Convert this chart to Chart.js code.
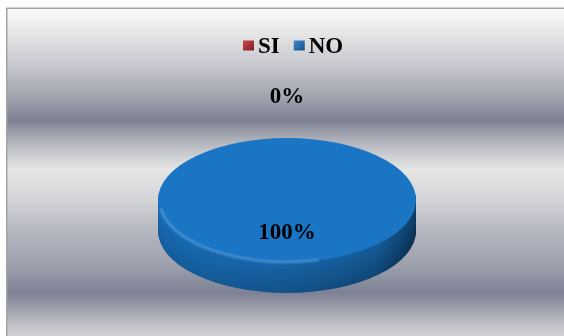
<!DOCTYPE html>
<html>
<head>
<meta charset="utf-8">
<script src="https://cdn.jsdelivr.net/npm/chart.js@4.4.0/dist/chart.umd.min.js"></script>
<style>
  html, body { margin: 0; padding: 0; background: #fff; }
  canvas { display: block; }
</style>
</head>
<body>
<canvas id="myChart" width="564" height="336"></canvas>
<script>
// chart data
var labels = ['SI', 'NO'];
var values = [0, 100];
var colors = ['#c0262c', '#1a75c4'];

// 3d pie look
var pie = { x: 287, y: 200, rx: 129, ry: 62, depth: 31 };
var labelFont = 'bold 23px "Liberation Serif", "Times New Roman", serif';

// metallic band background (y, colour)
var bands = [[8, '#fbfbfb'], [33, '#e6e6e7'], [67, '#c5c6cd'], [97, '#a1a4af'], [120, '#7c8093'],
  [140, '#aeb0b9'], [157, '#d0d1d4'], [170, '#e6e6e6'], [200, '#d3d4d8'], [233, '#b4b6bf'],
  [267, '#9b9eab'], [293, '#7d8194'], [310, '#a1a4ae'], [327, '#c6c7cd'], [336, '#d0d0d4']];

function hexRgb(h) {
   var n = parseInt(h.slice(1), 16);
   return [(n >> 16) & 255, (n >> 8) & 255, n & 255];
}
function mix(a, b, t) {
   var p = hexRgb(a), q = hexRgb(b);
   return 'rgb(' + p.map(function (v, i) { return Math.round(v + (q[i] - v) * t); }).join(',') + ')';
}

// squash the circular pie into an ellipse
function toEllipse(ctx, arc) {
   ctx.translate(pie.x, pie.y);
   ctx.scale(pie.rx / arc.outerRadius, pie.ry / arc.outerRadius);
   ctx.translate(-arc.x, -arc.y);
}

var backgroundPlugin = {
   id: 'bands',
   beforeDraw: function (chart) {
      var ctx = chart.ctx;
      var g = ctx.createLinearGradient(0, 8, 0, 336);
      bands.forEach(function (b) { g.addColorStop((b[0] - 8) / 328, b[1]); });
      ctx.save();
      ctx.fillStyle = g;
      ctx.fillRect(7, 8, 557, 328);
      ctx.strokeStyle = '#a3a3a3';
      ctx.lineWidth = 1.5;
      ctx.beginPath();
      ctx.moveTo(6.75, 336);
      ctx.lineTo(6.75, 8.25);
      ctx.lineTo(564, 8.25);
      ctx.stroke();
      ctx.restore();
   }
};

var pie3dPlugin = {
   id: 'pie3d',
   beforeDatasetsDraw: function (chart) {
      var ctx = chart.ctx;
      var meta = chart.getDatasetMeta(0);
      // side wall: stack of darker copies below the top face
      meta.data.forEach(function (arc, i) {
         if (!(arc.circumference > 0)) return;
         for (var d = pie.depth; d >= 1; d--) {
            ctx.save();
            ctx.translate(0, d);
            toEllipse(ctx, arc);
            var k = d / pie.depth;
            var g = ctx.createLinearGradient(arc.x - arc.outerRadius, 0, arc.x + arc.outerRadius, 0);
            g.addColorStop(0, mix(colors[i], '#000000', 0.08 + 0.12 * k));
            g.addColorStop(0.4, mix(colors[i], '#000000', 0.12 + 0.16 * k));
            g.addColorStop(0.85, mix(colors[i], '#000000', 0.22 + 0.18 * k));
            g.addColorStop(1, mix(colors[i], '#000000', 0.45 + 0.15 * k));
            var saved = arc.options;
            arc.options = Object.assign({}, saved, { backgroundColor: g, borderWidth: 0 });
            arc.draw(ctx);
            arc.options = saved;
            ctx.restore();
         }
      });
      ctx.save();
      toEllipse(ctx, meta.data[0]);
   },
   afterDatasetsDraw: function (chart) {
      var ctx = chart.ctx;
      ctx.restore();
      // soft highlight on the front rim
      ctx.save();
      ctx.beginPath();
      ctx.ellipse(pie.x, pie.y + 1, pie.rx - 2, pie.ry - 1, 0, Math.PI * 0.42, Math.PI * 0.96);
      ctx.strokeStyle = 'rgba(120,178,230,0.6)';
      ctx.lineWidth = 2;
      ctx.filter = 'blur(1px)';
      ctx.stroke();
      ctx.restore();
   },
   afterDraw: function (chart) {
      var ctx = chart.ctx;
      var meta = chart.getDatasetMeta(0);
      var total = values.reduce(function (a, b) { return a + b; }, 0);
      ctx.save();
      ctx.font = labelFont;
      ctx.fillStyle = '#000';
      ctx.textAlign = 'center';
      ctx.textBaseline = 'middle';
      // percentage labels
      meta.data.forEach(function (arc, i) {
         var text = Math.round(values[i] / total * 100) + '%';
         var x, y;
         if (arc.circumference > 0) {
            var p = arc.tooltipPosition();
            x = pie.x + (p.x - arc.x) * pie.rx / arc.outerRadius;
            y = pie.y + (p.y - arc.y) * pie.ry / arc.outerRadius + 2;
         } else {
            var a = arc.startAngle;
            x = pie.x + Math.cos(a) * (pie.rx + 41);
            y = pie.y + Math.sin(a) * (pie.ry + 41);
         }
         ctx.fillText(text, x, y);
      });
      // legend
      var box = 11, gap = 4, spacing = 14, cy = 46.5;
      var widths = labels.map(function (l) { return ctx.measureText(l).width; });
      var totalW = widths.reduce(function (s, w) { return s + box + gap + w; }, 0) + spacing * (labels.length - 1);
      var x0 = Math.round(293 - totalW / 2);
      ctx.textAlign = 'left';
      labels.forEach(function (l, i) {
         var g = ctx.createLinearGradient(x0, cy - box / 2, x0 + box, cy + box / 2);
         g.addColorStop(0, mix(colors[i], '#ffffff', 0.15));
         g.addColorStop(1, mix(colors[i], '#000000', 0.35));
         ctx.fillStyle = g;
         ctx.fillRect(x0, cy - box / 2 - 0.5, box, box - 1);
         ctx.fillStyle = '#000';
         ctx.fillText(l, x0 + box + gap, cy + 1);
         x0 += box + gap + widths[i] + spacing;
      });
      ctx.restore();
   }
};

var ctx = document.getElementById('myChart').getContext('2d');
var myChart = new Chart(ctx, {
   type: 'pie',
   data: {
      labels: labels,
      datasets: [{
         data: values,
         backgroundColor: colors,
         borderWidth: 0
      }]
   },
   options: {
      responsive: false,
      animation: false,
      plugins: {
         legend: { display: false },
         tooltip: { enabled: false }
      }
   },
   plugins: [backgroundPlugin, pie3dPlugin]
});
</script>
</body>
</html>
